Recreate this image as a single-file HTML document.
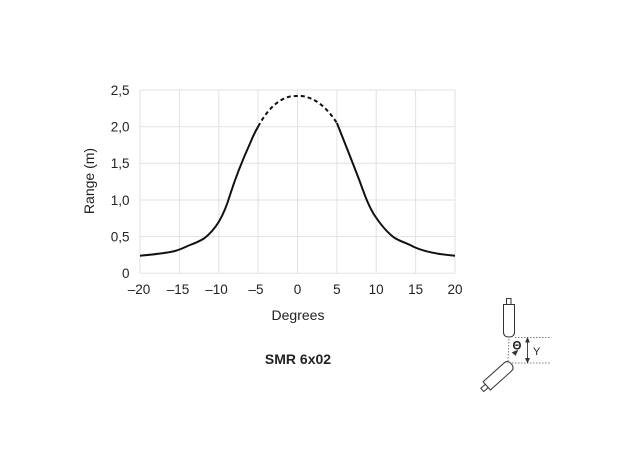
<!DOCTYPE html>
<html><head><meta charset="utf-8"><style>
html,body{margin:0;padding:0;background:#fff;}
svg{display:block;}
text{font-family:"Liberation Sans",Arial,sans-serif;fill:#222;}
</style></head><body>
<svg width="631" height="458" viewBox="0 0 631 458" xmlns="http://www.w3.org/2000/svg">
<g stroke="#e2e2e2" stroke-width="1">
<line x1="140" y1="90" x2="140" y2="273.5"/>
<line x1="179.4" y1="90" x2="179.4" y2="273.5"/>
<line x1="218.8" y1="90" x2="218.8" y2="273.5"/>
<line x1="258.1" y1="90" x2="258.1" y2="273.5"/>
<line x1="297.5" y1="90" x2="297.5" y2="273.5"/>
<line x1="336.9" y1="90" x2="336.9" y2="273.5"/>
<line x1="376.2" y1="90" x2="376.2" y2="273.5"/>
<line x1="415.6" y1="90" x2="415.6" y2="273.5"/>
<line x1="455" y1="90" x2="455" y2="273.5"/>
<line x1="140" y1="90" x2="455" y2="90"/>
<line x1="140" y1="126.7" x2="455" y2="126.7"/>
<line x1="140" y1="163.3" x2="455" y2="163.3"/>
<line x1="140" y1="200" x2="455" y2="200"/>
<line x1="140" y1="236.6" x2="455" y2="236.6"/>
<line x1="140" y1="273.3" x2="455" y2="273.3"/>
</g>
<g font-size="13.5" text-anchor="end">
<text x="129.5" y="95">2,5</text>
<text x="129.5" y="131.5">2,0</text>
<text x="129.5" y="168">1,5</text>
<text x="129.5" y="205">1,0</text>
<text x="129.5" y="241.5">0,5</text>
<text x="129.5" y="278">0</text>
</g>
<g font-size="13.5" text-anchor="middle">
<text x="139" y="294">–20</text>
<text x="178" y="294">–15</text>
<text x="216.5" y="294">–10</text>
<text x="256" y="294">–5</text>
<text x="297.5" y="294">0</text>
<text x="336.9" y="294">5</text>
<text x="376.2" y="294">10</text>
<text x="415.6" y="294">15</text>
<text x="455" y="294">20</text>
</g>
<text x="298" y="320" font-size="14" text-anchor="middle">Degrees</text>
<text transform="translate(94,181) rotate(-90)" font-size="14" text-anchor="middle">Range (m)</text>
<text x="298" y="364" font-size="14" font-weight="bold" text-anchor="middle">SMR 6x02</text>
<g fill="none" stroke="#111" stroke-width="2" stroke-linejoin="round" stroke-linecap="butt">
<path d="M140,255.7 C150,254.8 165,253.5 175,251 C182,249 186,246.5 190,245 C196,242.8 200,241 204,238.5 C210,234 215,228 219,221.5 C224,213 227,205 230,195 C236,176 243,159 250,143.5 C253,136 255.5,131 258.1,126.7"/>
<path stroke-dasharray="4,3" d="M258.1,126.7 C266,112 276,100 290,96.5 C294,95.8 301,95.8 305,96.5 C319,100 329,111 336.9,123"/>
<path d="M336.9,123 C344,141 352,161 360,182 C365,196 369,207 375,216 C381,225 388,233 394,237.5 C400,241.5 408,243.5 414,247 C425,252 440,254.5 455,255.7"/>
</g>
<!-- sensor icon -->
<g fill="#fff" stroke="#333" stroke-width="1">
<rect x="506.5" y="298.5" width="4.5" height="6"/>
<path d="M503.5,304.5 H514.5 V332 Q514.5,337 509,337 Q503.5,337 503.5,332 Z"/>
<g transform="translate(510.5,364.5) rotate(48)">
<path d="M-5.5,4 Q-5.5,-1 0,-1 Q5.5,-1 5.5,4 V32 H-5.5 Z"/>
<rect x="-2.2" y="32" width="4.4" height="6"/>
</g>
</g>
<g stroke="#555" stroke-width="0.8" stroke-dasharray="1.5,1.5" fill="none">
<line x1="515" y1="337.5" x2="551" y2="337.5"/>
<line x1="512" y1="363" x2="551" y2="363"/>
<line x1="509" y1="339" x2="508" y2="362"/>
</g>
<g stroke="#333" stroke-width="0.9" fill="#333">
<line x1="527.5" y1="340" x2="527.5" y2="360.5"/>
<path d="M525.8,342 L527.5,338 L529.2,342 Z"/>
<path d="M525.8,358.5 L527.5,362.5 L529.2,358.5 Z"/>
<path d="M512.5,352.5 L517.5,350.5 L515.5,355 Z"/>
</g>
<text x="533" y="355" font-size="11">Y</text>
<text x="512.5" y="349.5" font-size="11.5" font-weight="bold">Θ</text>
</svg>
</body></html>
